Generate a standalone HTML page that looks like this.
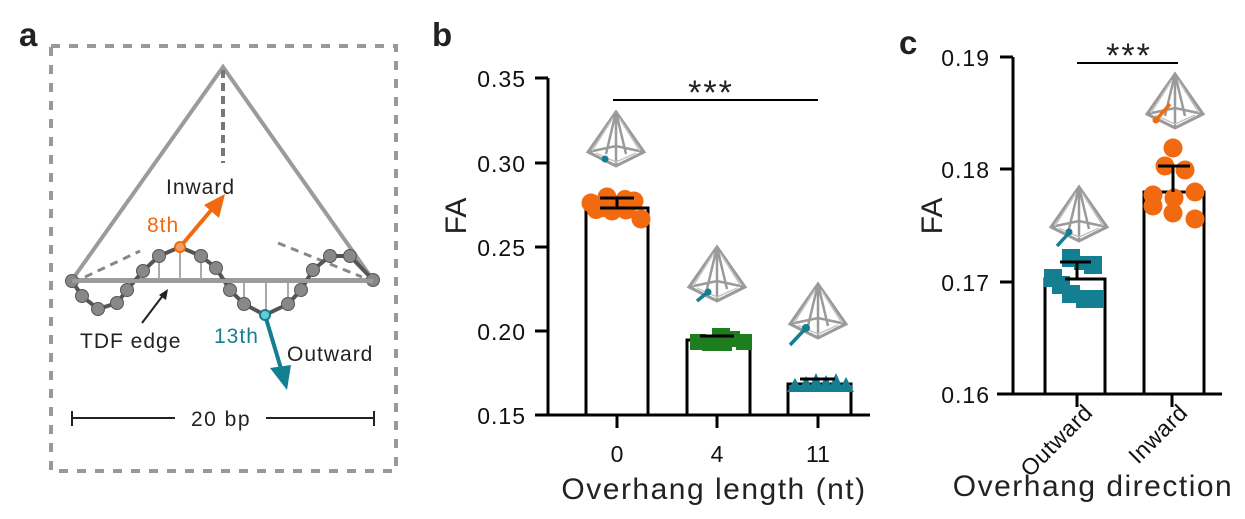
<!DOCTYPE html>
<html><head><meta charset="utf-8"><style>
html,body{margin:0;padding:0;background:#fff}
svg{display:block}
text{font-family:"Liberation Sans",Arial,sans-serif}
</style></head><body>
<svg width="1245" height="519" viewBox="0 0 1245 519" xmlns="http://www.w3.org/2000/svg">
<defs>
<g id="pyr" fill="none" stroke="#9a9a9a" stroke-width="3">
  <path d="M0,-28 L-28,12 L0,26 L28,12 Z"/>
  <path d="M0,-28 L0,26 M-28,12 L0,6 L28,12 M0,-28 L-10,14 M0,-28 L10,14" stroke-width="2.5"/>
  <path d="M-3,-22 L-24,11 M3,-22 L24,11 M-20,13 L0,22 L20,13" stroke="#c4c4c4" stroke-width="1.5"/>
</g>
</defs>
<!-- panel a -->
<text x="19" y="46" font-size="33" font-weight="bold" fill="#222">a</text>
<rect x="51" y="46" width="345" height="425" fill="none" stroke="#999" stroke-width="4" stroke-dasharray="9,9"/>
<path d="M72,280 L223,67 L373,280 Z" fill="none" stroke="#9b9b9b" stroke-width="4"/>
<line x1="223" y1="70" x2="223" y2="163" stroke="#777" stroke-width="4" stroke-dasharray="8,5"/>
<line x1="85" y1="277" x2="140" y2="251" stroke="#888" stroke-width="3" stroke-dasharray="8,6"/>
<line x1="278" y1="243" x2="362" y2="277" stroke="#888" stroke-width="3" stroke-dasharray="8,6"/>
<g stroke="#aaa" stroke-width="2">
<line x1="159" y1="256" x2="159" y2="281"/><line x1="180" y1="250" x2="180" y2="281"/><line x1="201" y1="258" x2="201" y2="281"/>
<line x1="244" y1="281" x2="244" y2="304"/><line x1="266" y1="281" x2="266" y2="312"/><line x1="288" y1="281" x2="288" y2="304"/>
</g>
<polyline points="72,281 82,296 98,309 117,303 127,290 143,271 159,256 180,247 201,256 216,268 230,290 244,304 265,315 288,304 301,290 313,270 330,256 350,256 373,280" fill="none" stroke="#555" stroke-width="4"/>
<g fill="#888" stroke="#555" stroke-width="1">
<circle cx="72" cy="281" r="6.5"/><circle cx="82" cy="296" r="6.5"/><circle cx="98" cy="309" r="6.5"/><circle cx="117" cy="303" r="6.5"/><circle cx="127" cy="290" r="6.5"/><circle cx="143" cy="271" r="6.5"/><circle cx="159" cy="256" r="6.5"/><circle cx="201" cy="256" r="6.5"/><circle cx="216" cy="268" r="6.5"/><circle cx="230" cy="290" r="6.5"/><circle cx="244" cy="304" r="6.5"/><circle cx="288" cy="304" r="6.5"/><circle cx="301" cy="290" r="6.5"/><circle cx="313" cy="270" r="6.5"/><circle cx="330" cy="256" r="6.5"/><circle cx="350" cy="256" r="6.5"/><circle cx="373" cy="280" r="6.5"/>
</g>
<line x1="72" y1="281" x2="373" y2="281" stroke="#9b9b9b" stroke-width="4"/>
<line x1="180" y1="247" x2="213" y2="208" stroke="#f26a10" stroke-width="4"/>
<path d="M225,194 L219,218 L204,205 Z" fill="#f26a10"/>
<circle cx="180" cy="247" r="5" fill="#f5a060" stroke="#f26a10" stroke-width="2"/>
<line x1="265" y1="315" x2="282" y2="372" stroke="#137f91" stroke-width="4"/>
<path d="M287,390 L270,368 L291,365 Z" fill="#137f91"/>
<circle cx="265" cy="315" r="5" fill="#6cc" stroke="#137f91" stroke-width="2"/>
<line x1="142" y1="323" x2="164" y2="294" stroke="#222" stroke-width="2"/>
<path d="M168,289 L166,300 L159,295 Z" fill="#222"/>
<g font-size="21" letter-spacing="1">
<text x="166" y="194" fill="#222">Inward</text>
<text x="147" y="232" fill="#f26a10">8th</text>
<text x="214" y="343" fill="#137f91">13th</text>
<text x="287" y="361" fill="#222">Outward</text>
<text x="80" y="348" fill="#222">TDF edge</text>
</g>
<line x1="72" y1="418" x2="175" y2="418" stroke="#222" stroke-width="2"/>
<line x1="266" y1="418" x2="374" y2="418" stroke="#222" stroke-width="2"/>
<line x1="72" y1="411" x2="72" y2="426" stroke="#222" stroke-width="2"/>
<line x1="374" y1="411" x2="374" y2="426" stroke="#222" stroke-width="2"/>
<text x="221" y="426" font-size="21" letter-spacing="1.5" text-anchor="middle" fill="#222">20 bp</text>

<!-- panel b -->
<text x="432" y="46" font-size="33" font-weight="bold" fill="#222">b</text>
<g stroke="#000" stroke-width="3" fill="none">
<line x1="548" y1="78" x2="548" y2="416"/>
<line x1="535" y1="415" x2="870" y2="415"/>
<line x1="535" y1="78" x2="548" y2="78"/><line x1="535" y1="163" x2="548" y2="163"/><line x1="535" y1="247" x2="548" y2="247"/><line x1="535" y1="331" x2="548" y2="331"/>
<line x1="617" y1="415" x2="617" y2="428"/><line x1="717" y1="415" x2="717" y2="428"/><line x1="818" y1="415" x2="818" y2="428"/>
<path d="M586,415 V208 H648 V415"/><path d="M687,415 V340 H750 V415"/><path d="M788,415 V384 H851 V415"/>
</g>
<g font-size="23" letter-spacing="1" fill="#111" text-anchor="end">
<text x="526" y="87">0.35</text><text x="526" y="172">0.30</text><text x="526" y="256">0.25</text><text x="526" y="340">0.20</text><text x="526" y="424">0.15</text>
</g>
<g font-size="23" fill="#111" text-anchor="middle"><text x="617" y="462">0</text><text x="717" y="462">4</text><text x="818" y="462">11</text></g>
<text x="714" y="499" font-size="30" letter-spacing="1.5" text-anchor="middle" fill="#222">Overhang length (nt)</text>
<text transform="translate(466,216) rotate(-90)" font-size="30" text-anchor="middle" fill="#222">FA</text>
<line x1="613" y1="100" x2="818" y2="100" stroke="#000" stroke-width="2"/>
<text x="711" y="104" font-size="34" letter-spacing="2" text-anchor="middle" fill="#222">***</text>
<g fill="#f26a10">
<circle cx="591" cy="203" r="9.5"/><circle cx="601" cy="208" r="9.5"/><circle cx="612" cy="211" r="9.5"/><circle cx="607" cy="197" r="9.5"/><circle cx="616" cy="205" r="9.5"/><circle cx="626" cy="210" r="9.5"/><circle cx="634" cy="201" r="9.5"/><circle cx="641" cy="219" r="9.5"/><circle cx="596" cy="210" r="9"/><circle cx="625" cy="199" r="9"/>
</g>
<g fill="#1e7d1e">
<rect x="690" y="334" width="16" height="16"/><rect x="702" y="336" width="16" height="15"/><rect x="712" y="328" width="18" height="18"/><rect x="724" y="331" width="16" height="16"/><rect x="736" y="334" width="16" height="16"/><rect x="716" y="336" width="16" height="15"/>
</g>
<g fill="#137f91">
<path d="M787,392 L795,378 L803,392Z M798,392 L806,376 L814,392Z M808,391 L816,373 L824,391Z M818,392 L826,375 L834,392Z M828,391 L836,373 L844,391Z M838,392 L846,377 L854,392Z M790,385 H852 V392 H790Z"/>
</g>
<g stroke="#000" stroke-width="3">
<line x1="617" y1="198" x2="617" y2="208"/><line x1="600" y1="198" x2="634" y2="198"/><line x1="600" y1="208" x2="648" y2="208"/>
<line x1="700" y1="336" x2="734" y2="336"/>
<line x1="800" y1="379" x2="835" y2="379"/>
</g>
<use href="#pyr" x="616" y="140"/>
<circle cx="605" cy="159" r="3.5" fill="#137f91"/>
<use href="#pyr" x="717" y="275"/>
<line x1="697" y1="301" x2="708" y2="292" stroke="#137f91" stroke-width="3.5"/><circle cx="708" cy="292" r="3.5" fill="#137f91"/>
<use href="#pyr" x="818" y="312"/>
<line x1="790" y1="345" x2="806" y2="328" stroke="#137f91" stroke-width="3.5"/><circle cx="806" cy="328" r="4" fill="#137f91"/>

<!-- panel c -->
<text x="899" y="54" font-size="33" font-weight="bold" fill="#222">c</text>
<g stroke="#000" stroke-width="3" fill="none">
<line x1="1013" y1="57" x2="1013" y2="395"/>
<line x1="997" y1="394" x2="1222" y2="394"/>
<line x1="1000" y1="57" x2="1013" y2="57"/><line x1="1000" y1="169" x2="1013" y2="169"/><line x1="1000" y1="282" x2="1013" y2="282"/>
<line x1="1077" y1="394" x2="1077" y2="407"/><line x1="1172" y1="394" x2="1172" y2="407"/>
<path d="M1045,394 V279 H1105 V394"/><path d="M1144,394 V192 H1204 V394"/>
</g>
<g font-size="23" letter-spacing="1" fill="#111" text-anchor="end">
<text x="990" y="66">0.19</text><text x="990" y="178">0.18</text><text x="990" y="291">0.17</text><text x="990" y="403">0.16</text>
</g>
<text transform="translate(1094,414) rotate(-45)" font-size="23" letter-spacing="0.5" text-anchor="end" fill="#111">Outward</text>
<text transform="translate(1189,414) rotate(-45)" font-size="23" letter-spacing="0.5" text-anchor="end" fill="#111">Inward</text>
<text x="1093" y="496" font-size="30" letter-spacing="1.5" text-anchor="middle" fill="#222">Overhang direction</text>
<text transform="translate(942,216) rotate(-90)" font-size="30" text-anchor="middle" fill="#222">FA</text>
<line x1="1077" y1="63" x2="1178" y2="63" stroke="#000" stroke-width="2"/>
<text x="1129" y="67" font-size="34" letter-spacing="2" text-anchor="middle" fill="#222">***</text>
<g fill="#137f91">
<rect x="1044" y="269" width="18" height="18"/><rect x="1062" y="249" width="18" height="18"/><rect x="1084" y="256" width="18" height="18"/><rect x="1052" y="276" width="18" height="18"/><rect x="1062" y="285" width="18" height="18"/><rect x="1076" y="290" width="18" height="18"/><rect x="1086" y="290" width="18" height="18"/><rect x="1074" y="256" width="18" height="14"/>
</g>
<g fill="#f26a10">
<circle cx="1173" cy="148" r="9.5"/><circle cx="1165" cy="166" r="9.5"/><circle cx="1185" cy="170" r="9.5"/><circle cx="1153" cy="195" r="9.5"/><circle cx="1174" cy="198" r="9.5"/><circle cx="1195" cy="192" r="9.5"/><circle cx="1153" cy="206" r="9.5"/><circle cx="1173" cy="213" r="9.5"/><circle cx="1195" cy="219" r="9.5"/>
</g>
<g stroke="#000" stroke-width="3">
<line x1="1077" y1="262" x2="1077" y2="279"/><line x1="1060" y1="262" x2="1091" y2="262"/><line x1="1065" y1="279" x2="1105" y2="279"/>
<line x1="1173" y1="166" x2="1173" y2="192"/><line x1="1158" y1="166" x2="1190" y2="166"/>
</g>
<use href="#pyr" x="1079" y="215"/>
<line x1="1057" y1="246" x2="1069" y2="233" stroke="#137f91" stroke-width="3.5"/><circle cx="1069" cy="232" r="3.5" fill="#137f91"/>
<use href="#pyr" x="1175" y="102"/>
<line x1="1156" y1="120" x2="1170" y2="104" stroke="#f26a10" stroke-width="3.5"/><circle cx="1156" cy="120" r="3.5" fill="#f26a10"/>
</svg>
</body></html>
